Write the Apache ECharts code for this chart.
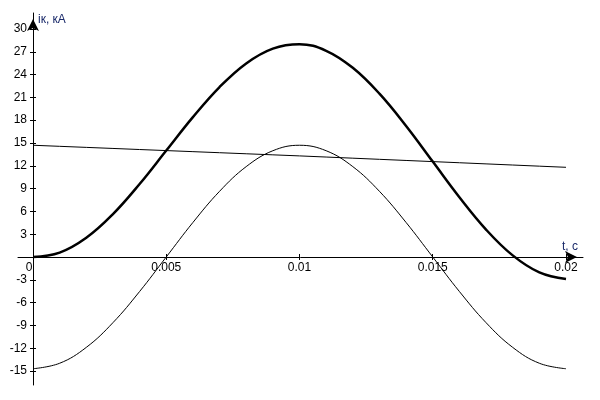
<!DOCTYPE html>
<html>
<head>
<meta charset="utf-8">
<script src="https://cdn.jsdelivr.net/npm/echarts@6/dist/echarts.min.js"></script>
<style>html,body{margin:0;padding:0;background:#fff}#c{width:600px;height:400px}</style>
</head>
<body>
<div id="c"></div>
<script>
// time, s
var tValues = [0, 0.001, 0.002, 0.003, 0.004, 0.005, 0.006, 0.007, 0.008, 0.009, 0.01,
               0.011, 0.012, 0.013, 0.014, 0.015, 0.016, 0.017, 0.018, 0.019, 0.02];
// total short-circuit current, kA (thick)
var iTotal = [0, 0.58, 2.53, 5.64, 9.6, 14.0, 18.4, 22.36, 25.47, 27.42, 28.0,
              27.13, 24.89, 21.49, 17.24, 12.55, 7.86, 3.61, 0.21, -2.03, -2.9];
// periodic component, kA (thin)
var iPeriodic = [-14.7, -13.98, -11.89, -8.64, -4.54, 0, 4.54, 8.64, 11.89, 13.98, 14.7,
                 13.98, 11.89, 8.64, 4.54, 0, -4.54, -8.64, -11.89, -13.98, -14.7];
// aperiodic component, kA
var iAperiodic = [14.7, 14.56, 14.42, 14.28, 14.14, 14.0, 13.86, 13.72, 13.58, 13.44, 13.3,
                  13.15, 13.0, 12.85, 12.7, 12.55, 12.4, 12.25, 12.1, 11.95, 11.8];
// tick labels
var xTicks = [0.005, 0.01, 0.015, 0.02];
var xLabels = [0, 0.005, 0.01, 0.015, 0.02];
var yTicks = [-15, -12, -9, -6, -3, 3, 6, 9, 12, 15, 18, 21, 24, 27, 30];

function pairs(ys) { return tValues.map(function (t, i) { return [t, ys[i]]; }); }

var font = 'Liberation Sans, Arial, sans-serif';
var xMin = -0.000563, xMax = 0.020638, yMin = -16.84, yMax = 32.1;
var gL = 18, gR = 17, gT = 13, gB = 15, W = 600, H = 400;
// axis offsets so that the axes cross at the origin (computed from the scales)
var xOffset = -((0 - yMin) / (yMax - yMin)) * (H - gT - gB);
var yOffset = -((0 - xMin) / (xMax - xMin)) * (W - gL - gR);

var chart = echarts.init(document.getElementById('c'), null, {renderer: 'canvas'});
chart.setOption({
  animation: false,
  backgroundColor: '#fff',
  grid: {left: gL, right: gR, top: gT, bottom: gB, containLabel: false, outerBoundsMode: 'none'},
  xAxis: [{
    type: 'value', min: xMin, max: xMax, position: 'bottom', offset: xOffset,
    name: 't, c', nameLocation: 'end', nameGap: -21,
    nameTextStyle: {color: '#1a2a6a', fontFamily: font, fontSize: 12, align: 'left', verticalAlign: 'bottom', padding: [0, 0, 4, 0]},
    axisLine: {show: true, onZero: false, symbol: ['none', 'arrow'], symbolSize: [9, 12], symbolOffset: [0, -6], lineStyle: {color: '#000', width: 1}},
    axisTick: {show: true, inside: true, length: 3, customValues: xTicks, lineStyle: {color: '#000'}},
    axisLabel: {show: true, customValues: xLabels, margin: 5, color: '#000', fontFamily: font, fontSize: 12,
      formatter: function (v) { return v === 0 ? '{z|0}' : String(v); },
      rich: {z: {padding: [0, 8, 0, 0], color: '#000', fontFamily: font, fontSize: 12}}},
    splitLine: {show: false}
  }, {
    type: 'value', min: xMin, max: xMax, position: 'bottom', offset: xOffset,
    axisLine: {show: false, onZero: false},
    axisTick: {show: true, inside: false, length: 3, customValues: xTicks, lineStyle: {color: '#000'}},
    axisLabel: {show: false},
    splitLine: {show: false}
  }],
  yAxis: [{
    type: 'value', min: yMin, max: yMax, position: 'left', offset: yOffset,
    name: 'iк, кА', nameLocation: 'end', nameGap: -7,
    nameTextStyle: {color: '#1a2a6a', fontFamily: font, fontSize: 12, align: 'left', verticalAlign: 'middle', padding: [0, 0, 0, 5]},
    axisLine: {show: true, onZero: false, symbol: ['none', 'arrow'], symbolSize: [9, 12], symbolOffset: [0, -6], lineStyle: {color: '#000', width: 1}},
    axisTick: {show: true, inside: true, length: 3, customValues: yTicks, lineStyle: {color: '#000'}},
    axisLabel: {show: true, customValues: yTicks, margin: 6, color: '#000', fontFamily: font, fontSize: 12},
    splitLine: {show: false}
  }, {
    type: 'value', min: yMin, max: yMax, position: 'left', offset: yOffset,
    axisLine: {show: false, onZero: false},
    axisTick: {show: true, inside: false, length: 3, customValues: yTicks, lineStyle: {color: '#000'}},
    axisLabel: {show: false},
    splitLine: {show: false}
  }],
  series: [{
    type: 'line', name: 'iа', data: pairs(iAperiodic), showSymbol: false, smooth: false,
    lineStyle: {color: '#000', width: 1}, xAxisIndex: 0, yAxisIndex: 0
  }, {
    type: 'line', name: 'iп', data: pairs(iPeriodic), showSymbol: false, smooth: 0.4,
    lineStyle: {color: '#000', width: 1}, xAxisIndex: 0, yAxisIndex: 0
  }, {
    type: 'line', name: 'iк', data: pairs(iTotal), showSymbol: false, smooth: 0.4,
    lineStyle: {color: '#000', width: 2.5}, xAxisIndex: 0, yAxisIndex: 0
  }]
});
</script>
</body>
</html>
